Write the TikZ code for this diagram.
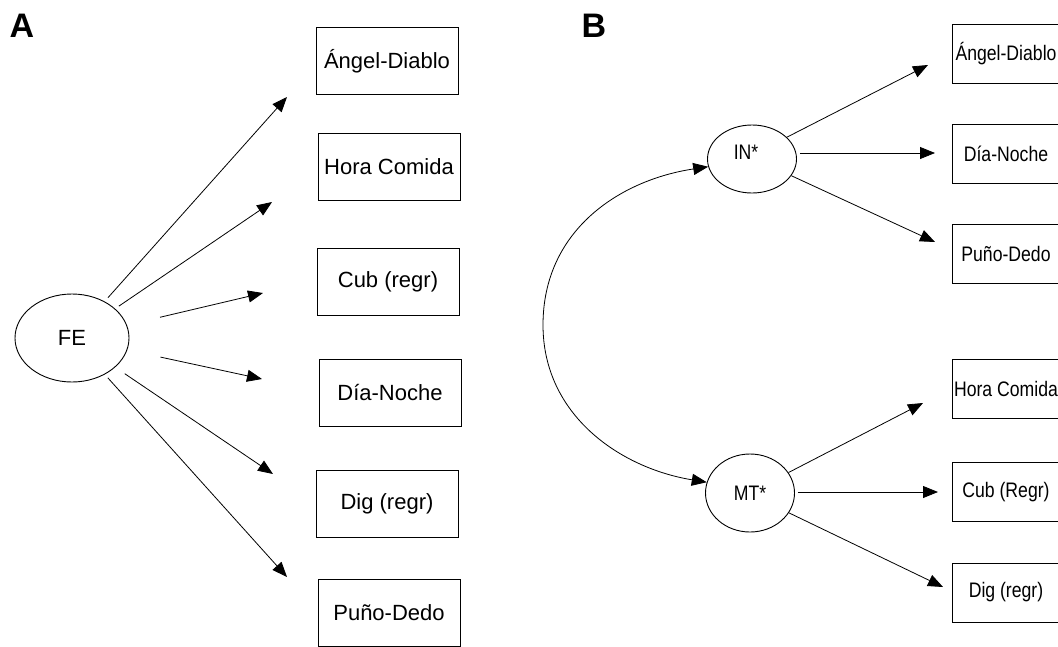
\documentclass[tikz,border=0pt]{standalone}
\usepackage{fontspec}
\setmainfont{Liberation Sans}
\newfontfamily\narrowfont[FakeStretch=0.84]{Liberation Sans}
\usetikzlibrary{shapes.geometric,arrows.meta}
\tikzset{
  boxA/.style={draw, line width=1pt, minimum width=142pt, minimum height=67pt, inner sep=0pt, font=\fontsize{22}{26}\selectfont},
  boxB/.style={draw, line width=1pt, minimum width=108pt, minimum height=59pt, inner sep=0pt, font=\narrowfont\fontsize{21}{25}\selectfont},
  ellA/.style={draw, ellipse, line width=0.9pt, inner sep=0pt, font=\fontsize{22}{26}\selectfont},
  ellB/.style={draw, ellipse, line width=0.9pt, inner sep=0pt, font=\narrowfont\fontsize{21}{25}\selectfont},
  arr/.style={line width=0.8pt, -{Triangle[length=15pt,width=12pt]}},
  arrboth/.style={line width=0.8pt, {Triangle[length=15pt,width=12pt]}-{Triangle[length=15pt,width=12pt]}},
  panel/.style={font=\bfseries\fontsize{34}{40}\selectfont, inner sep=0pt}
}
\begin{document}
\begin{tikzpicture}[x=1pt,y=-1pt]
\useasboundingbox (0,0) rectangle (1058,646);
% Panel labels
\node[panel] (labA) at (22,26) {A};
\node[panel] (labB) at (594,26) {B};
% ---------- Panel A ----------
\node[ellA, minimum width=114pt, minimum height=88pt] (FE) at (72,338) {FE};
\node[boxA] (A1) at (387,61) {Ángel-Diablo};
\node[boxA] (A2) at (389,167) {Hora Comida};
\node[boxA] (A3) at (388,282) {Cub (regr)};
\node[boxA] (A4) at (390,393) {Día-Noche};
\node[boxA] (A5) at (387,504) {Dig (regr)};
\node[boxA] (A6) at (389,613) {Puño-Dedo};
\coordinate (a1) at (287,97);
\coordinate (a2) at (272,202);
\coordinate (a3) at (263,293);
\coordinate (a4) at (262,379);
\coordinate (a5) at (273,474);
\coordinate (a6) at (287,577);
\draw[arr, shorten <=5pt] (FE) -- (a1);
\draw[arr, shorten <=4.5pt] (FE) -- (a2);
\draw[arr, shorten <=34pt] (FE) -- (a3);
\draw[arr, shorten <=34pt] (FE) -- (a4);
\draw[arr, shorten <=11.5pt] (FE) -- (a5);
\draw[arr, shorten <=4.5pt] (FE) -- (a6);
% ---------- Panel B ----------
\node[ellB, minimum width=89pt, minimum height=68pt, text height=15pt, text depth=14pt] (IN) at (752,159) {IN*\hspace*{12pt}};
\node[ellB, minimum width=89pt, minimum height=78pt] (MT) at (750,493) {MT*};
\node[boxB] (B1) at (1006,53.5) {Ángel-Diablo};
\node[boxB] (B2) at (1006,153.5) {Día-Noche};
\node[boxB] (B3) at (1006,253.5) {Puño-Dedo};
\node[boxB] (B4) at (1006,389) {Hora Comida};
\node[boxB] (B5) at (1006,492) {Cub (Regr)};
\node[boxB] (B6) at (1006,592.5) {Dig (regr)};
\coordinate (b1) at (928,65);
\coordinate (b2) at (935,153);
\coordinate (b3) at (935,242);
\coordinate (b4) at (923,403);
\coordinate (b5) at (938,492);
\coordinate (b6) at (943,587);
\draw[arr] (IN.32) -- (b1);
\draw[arr] ([xshift=3pt]IN.east |- b2) -- (b2);
\draw[arr] (IN.-23) -- (b3);
\draw[arr] (MT.28) -- (b4);
\draw[arr] ([xshift=3pt]MT.east |- b5) -- (b5);
\draw[arr] (MT.-27) -- (b6);
\draw[arrboth] (IN.190) .. controls (620,180) and (543,230) .. (543,325)
  .. controls (543,415) and (620,468) .. (MT.166);
\end{tikzpicture}
\end{document}
